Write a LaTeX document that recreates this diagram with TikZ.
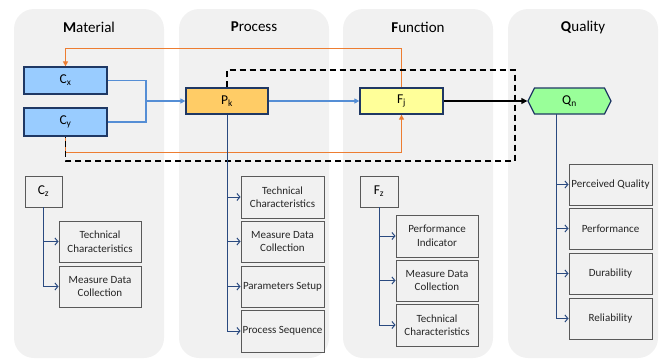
\documentclass[tikz,border=0pt]{standalone}
\usepackage{fontspec}
\setmainfont{Carlito}
\usetikzlibrary{arrows.meta,calc}

\definecolor{panelgray}{HTML}{F1F1F1}
\definecolor{navyborder}{HTML}{1F3864}
\definecolor{navyline}{HTML}{2A4A80}
\definecolor{flowblue}{RGB}{85,142,213}
\definecolor{feedorange}{HTML}{ED7D31}
\definecolor{cfill}{HTML}{99CCFF}
\definecolor{pfill}{HTML}{FFCC66}
\definecolor{ffill}{HTML}{FFFF99}
\definecolor{qfill}{HTML}{99FF99}
\definecolor{subborder}{HTML}{595959}
\definecolor{subtext}{HTML}{262626}

\begin{document}
\begin{tikzpicture}[x=1pt,y=-1pt,
  panel/.style={fill=panelgray, draw=none, rounded corners=20pt},
  paneltitle/.style={font=\fontsize{15}{17}\selectfont},
  mainbox/.style={draw=navyborder, line width=1.3pt, minimum width=83pt, minimum height=26pt,
    inner sep=1pt, font=\fontsize{13.5}{15}\selectfont},
  subbox/.style={draw=subborder, line width=0.9pt, fill=panelgray, minimum width=82pt,
    minimum height=41pt, inner sep=1pt, align=center, text=subtext,
    font=\fontsize{11}{13.5}\selectfont},
  keybox/.style={draw=subborder, line width=0.9pt, fill=panelgray, minimum width=37pt,
    minimum height=31pt, inner sep=1pt, font=\fontsize{13.5}{15}\selectfont},
  flow/.style={draw=flowblue, line width=1.4pt},
  flowarrow/.style={flow, -{Triangle[length=5pt,width=5pt]}},
  feedback/.style={draw=feedorange, line width=1.4pt, -{Triangle[length=5pt,width=5pt]}},
  scopeline/.style={draw=black, line width=1.3pt, dash pattern=on 6pt off 4pt},
  branch/.style={draw=navyline, line width=1pt, -{Straight Barb[length=3pt,width=7pt]}},
]
\useasboundingbox (0,0) rectangle (659,359);

% column panels
\path[panel] (14,9) rectangle (164,358);
\path[panel] (179,9) rectangle (329,358);
\path[panel] (343,9) rectangle (493,358);
\path[panel] (508,9) rectangle (658,358);

\node[paneltitle] (tM) at (89,27) {\textbf{M}aterial};
\node[paneltitle] (tP) at (254,27) {\textbf{P}rocess};
\node[paneltitle] (tF) at (418,27) {\textbf{F}unction};
\node[paneltitle] (tQ) at (583,27) {\textbf{Q}uality};

% main chain
\node[mainbox, fill=cfill, minimum height=27pt] (Cx) at (65.5,80.5) {C\textsubscript{x}};
\node[mainbox, fill=cfill, minimum height=28pt] (Cy) at (65.5,122) {C\textsubscript{y}};
\node[mainbox, fill=pfill, minimum width=82pt] (Pk) at (227,101) {P\textsubscript{k}};
\node[mainbox, fill=ffill] (Fj) at (401.5,101) {F\textsubscript{j}};
\path[fill=qfill, draw=navyborder, line width=1.3pt]
  (528,101) -- (534.5,88) -- (604.5,88) -- (611,101) -- (604.5,114) -- (534.5,114) -- cycle;
\node[mainbox, draw=none, inner sep=0pt] (Qn) at (569.5,101) {Q\textsubscript{n}};

% material inputs merge into the process
\coordinate (merge) at (146,101);
\draw[flow] (Cx.east) -| (merge);
\draw[flow] (Cy.east) -| (merge);
\draw[flowarrow] (merge) -- (Pk.west);
\draw[flowarrow] (Pk.east) -- (Fj.west);
\draw[draw=black, line width=1.3pt, -{Triangle[length=6pt,width=6pt]}] (Fj.east) -- (Qn.west);

% feedback loops
\draw[feedback] (Fj.north) |- ($(Cx.north)+(0,-18)$) -- (Cx.north);
\draw[feedback] (Cy.south) -- ++(0,16) -| (Fj.south);

% dashed scope
\coordinate (scopeTR) at (515,70);
\coordinate (scopeBR) at (515,161);
\draw[scopeline] (Pk.north) |- (scopeTR) -- (scopeBR) -| (Cy.south);

% material details
\node[keybox] (Cz) at (43.5,191.5) {C\textsubscript{z}};
\node[subbox] (m1) at (100,241.5) {Technical\\Characteristics};
\node[subbox] (m2) at (100,286.5) {Measure Data\\Collection};
\draw[branch] (Cz.south) |- (m1.west);
\draw[branch] (Cz.south) |- (m2.west);

% process details
\node[subbox, minimum width=83pt, minimum height=42pt] (p1) at (282.5,197) {Technical\\Characteristics};
\node[subbox, minimum width=83pt] (p2) at (282.5,241.5) {Measure Data\\Collection};
\node[subbox, minimum width=83pt] (p3) at (282.5,286.5) {Parameters Setup};
\node[subbox, minimum width=83pt, minimum height=42pt] (p4) at (282.5,331) {Process Sequence};
\draw[branch] (Pk.south) |- (p1.west);
\draw[branch] (Pk.south) |- (p2.west);
\draw[branch] (Pk.south) |- (p3.west);
\draw[branch] (Pk.south) |- (p4.west);

% function details
\node[keybox, minimum width=38pt] (Fz) at (379,191.5) {F\textsubscript{z}};
\node[subbox, minimum height=42pt] (f1) at (437,236) {Performance\\Indicator};
\node[subbox] (f2) at (437,280.5) {Measure Data\\Collection};
\node[subbox, minimum height=42pt] (f3) at (437,325) {Technical\\Characteristics};
\draw[branch] (Fz.south) |- (f1.west);
\draw[branch] (Fz.south) |- (f2.west);
\draw[branch] (Fz.south) |- (f3.west);

% quality details
\coordinate (qstem) at (556,114);
\node[subbox, minimum width=83pt] (q1) at (610.5,184.5) {Perceived Quality};
\node[subbox, minimum width=83pt] (q2) at (610.5,228.5) {Performance};
\node[subbox, minimum width=83pt] (q3) at (610.5,273.5) {Durability};
\node[subbox, minimum width=83pt] (q4) at (610.5,318.5) {Reliability};
\draw[branch] (qstem) |- (q1.west);
\draw[branch] (qstem) |- (q2.west);
\draw[branch] (qstem) |- (q3.west);
\draw[branch] (qstem) |- (q4.west);
\end{tikzpicture}
\end{document}
